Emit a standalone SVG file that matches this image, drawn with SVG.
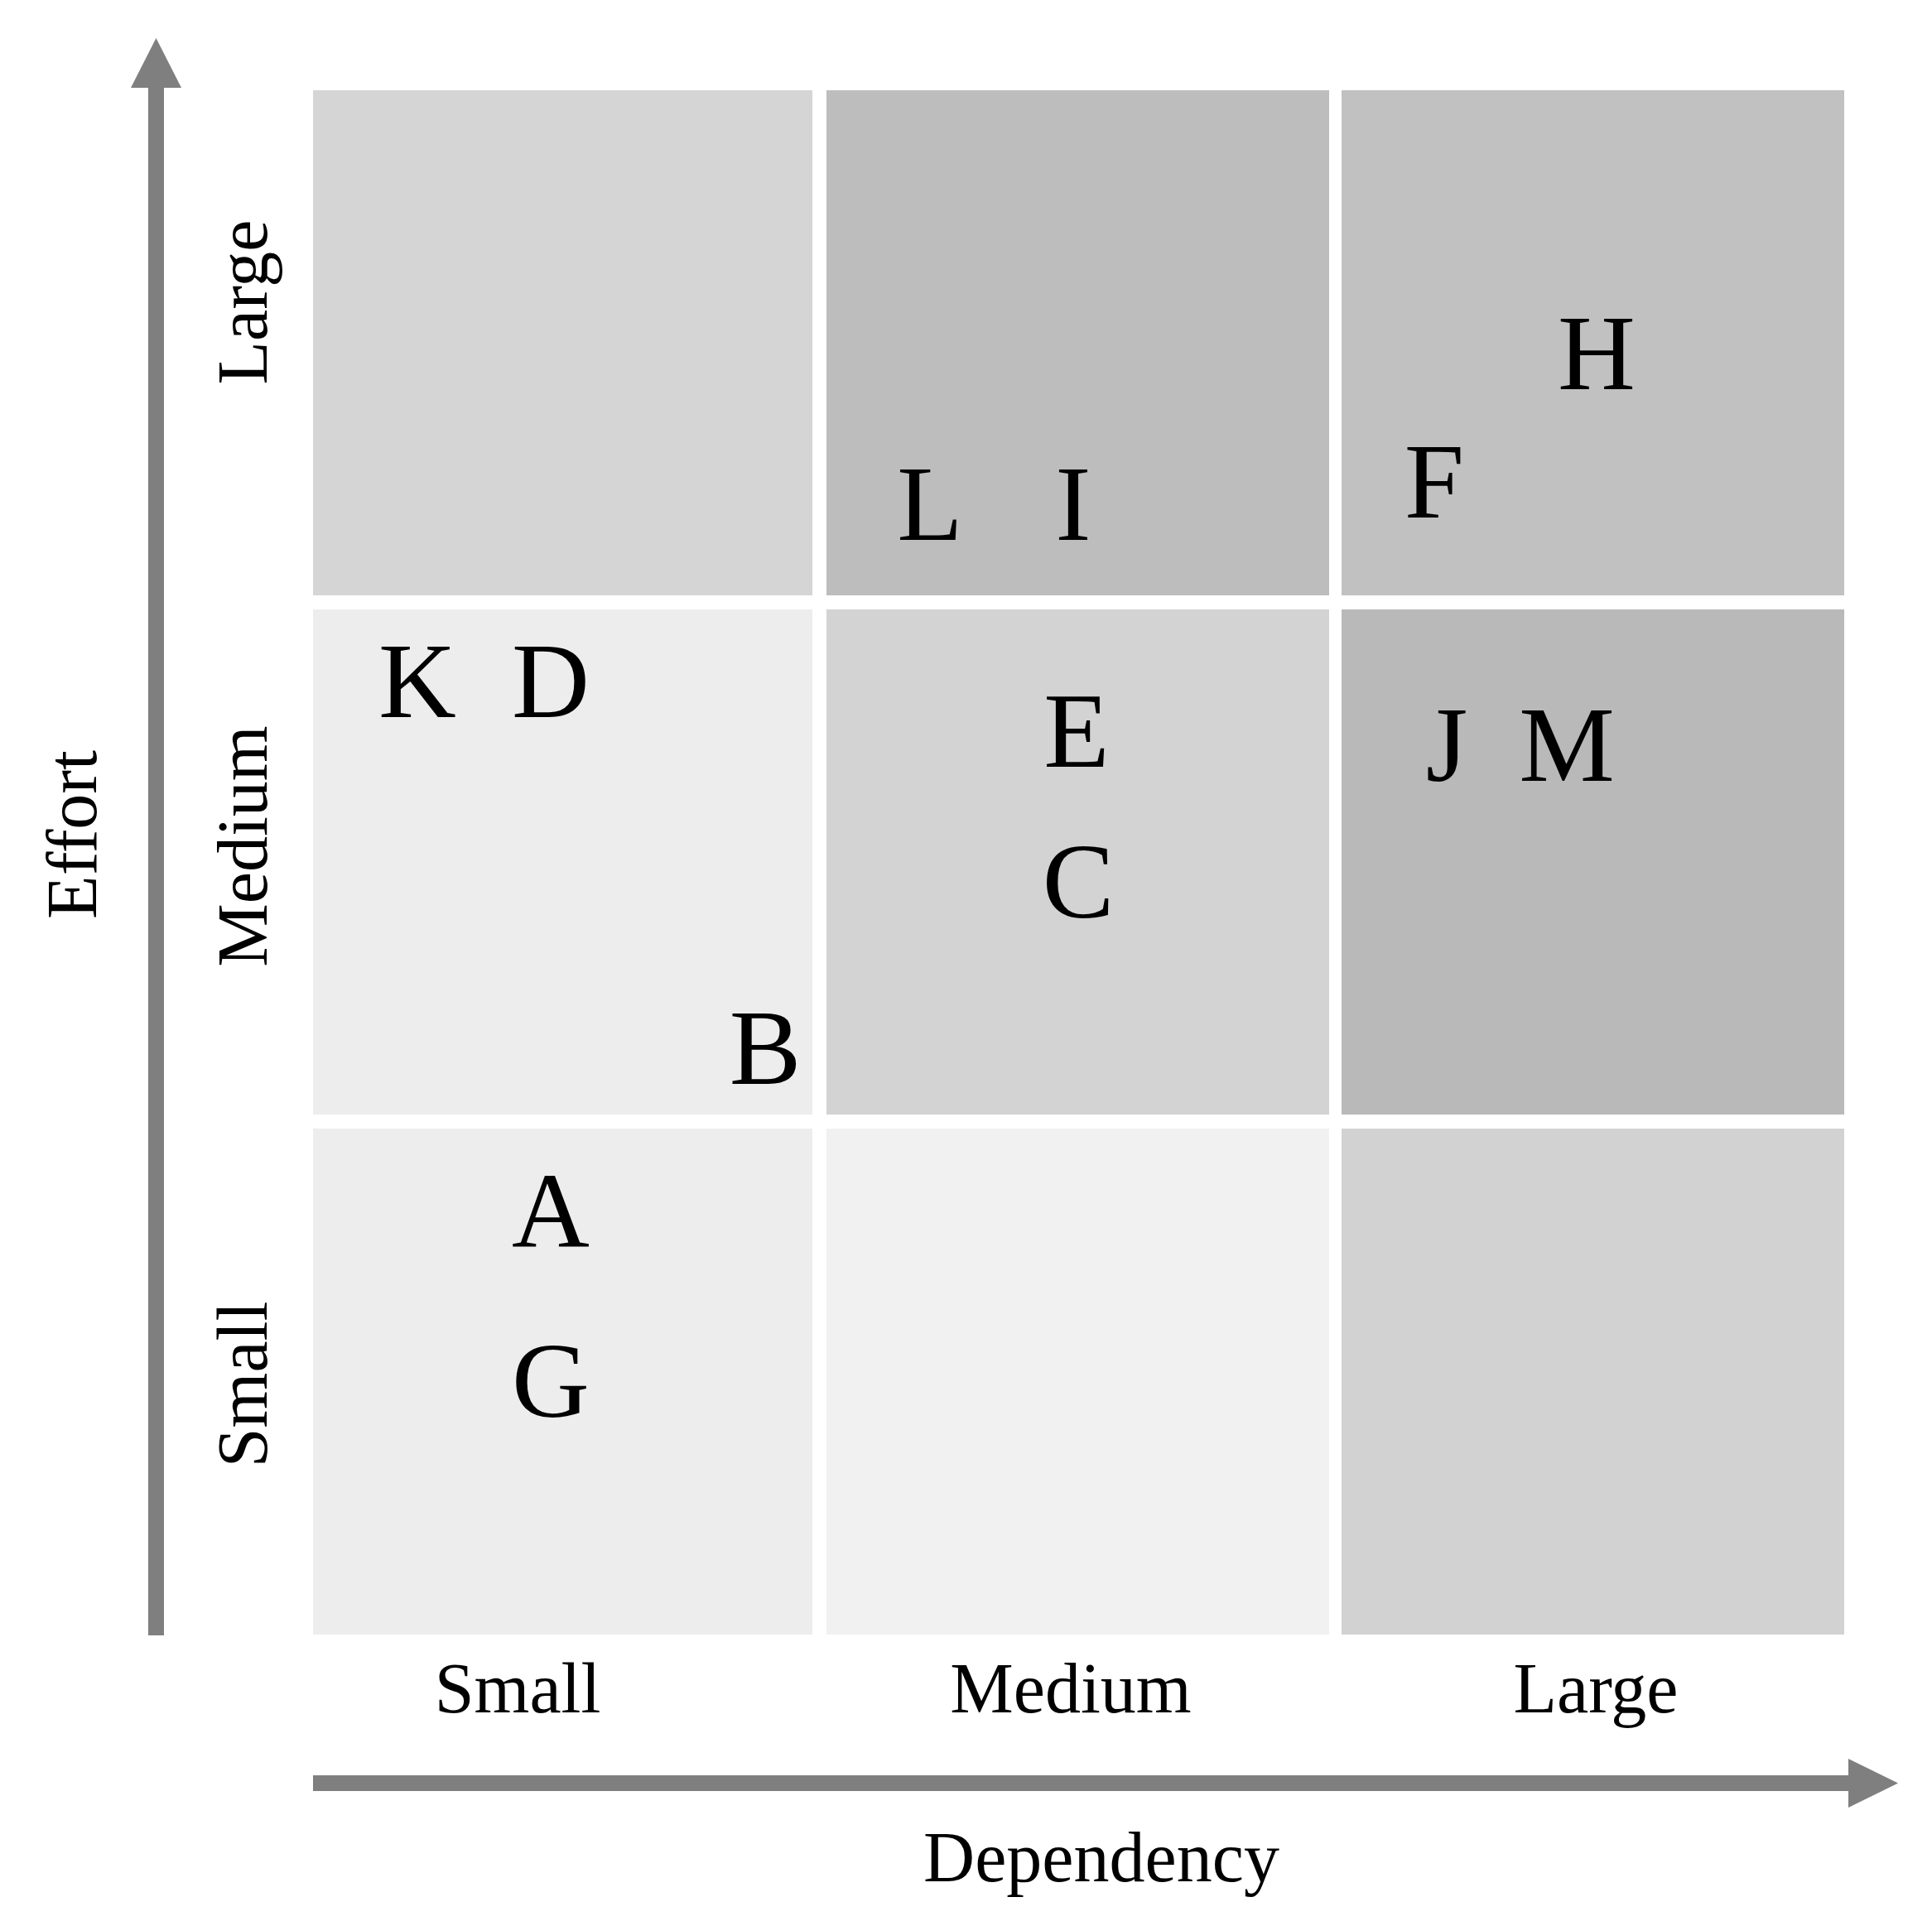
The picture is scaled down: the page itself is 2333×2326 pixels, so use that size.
<svg xmlns="http://www.w3.org/2000/svg" width="2333" height="2326" viewBox="0 0 2333 2326">
<style>
.lbl{font-family:"Liberation Serif","Times New Roman",serif;fill:#000;text-anchor:middle}
.ax{font-size:86px}
.pt{font-size:130px}
.arrow{fill:#7f7f7f}
</style>
<rect width="2333" height="2326" fill="#ffffff"/>
<g id="cells">
<rect id="cell-r1c1" x="378" y="109" width="603" height="610" fill="#d5d5d5"/>
<rect id="cell-r1c2" x="998" y="109" width="607" height="610" fill="#bdbdbd"/>
<rect id="cell-r1c3" x="1620" y="109" width="607" height="610" fill="#c1c1c1"/>
<rect id="cell-r2c1" x="378" y="736" width="603" height="610" fill="#ededed"/>
<rect id="cell-r2c2" x="998" y="736" width="607" height="610" fill="#d3d3d3"/>
<rect id="cell-r2c3" x="1620" y="736" width="607" height="610" fill="#b9b9b9"/>
<rect id="cell-r3c1" x="378" y="1363" width="603" height="611" fill="#ededed"/>
<rect id="cell-r3c2" x="998" y="1363" width="607" height="611" fill="#f1f1f1"/>
<rect id="cell-r3c3" x="1620" y="1363" width="607" height="611" fill="#d2d2d2"/>
</g>
<g id="connectors">
<g id="axis-effort">
<rect class="arrow" x="179" y="100" width="19" height="1875"/>
<polygon class="arrow" points="188.5,46 219,106 158,106"/>
</g>
<g id="axis-dependency">
<rect class="arrow" x="378" y="2144" width="1860" height="19"/>
<polygon class="arrow" points="2292,2153.5 2232,2124 2232,2183"/>
</g>
</g>
<g id="axis-labels">
<text id="lbl-effort" class="lbl ax" x="116" y="1008" transform="rotate(-90 116 1008)">Effort</text>
<text id="lbl-y-large" class="lbl ax" x="322" y="365" transform="rotate(-90 322 365)">Large</text>
<text id="lbl-y-medium" class="lbl ax" x="322" y="1022" transform="rotate(-90 322 1022)">Medium</text>
<text id="lbl-y-small" class="lbl ax" x="322" y="1672" transform="rotate(-90 322 1672)">Small</text>
<text id="lbl-x-small" class="lbl ax" x="625" y="2068">Small</text>
<text id="lbl-x-medium" class="lbl ax" x="1293" y="2068">Medium</text>
<text id="lbl-x-large" class="lbl ax" x="1927" y="2068">Large</text>
<text id="lbl-dependency" class="lbl ax" x="1330" y="2272">Dependency</text>
</g>
<g id="node-A"><text class="lbl pt" x="665" y="1506">A</text></g>
<g id="node-B"><text class="lbl pt" x="924" y="1309">B</text></g>
<g id="node-C"><text class="lbl pt" x="1302" y="1108">C</text></g>
<g id="node-D"><text class="lbl pt" x="665" y="866">D</text></g>
<g id="node-E"><text class="lbl pt" x="1300" y="926">E</text></g>
<g id="node-F"><text class="lbl pt" x="1732" y="625">F</text></g>
<g id="node-G"><text class="lbl pt" x="665" y="1711">G</text></g>
<g id="node-H"><text class="lbl pt" x="1928" y="470">H</text></g>
<g id="node-I"><text class="lbl pt" x="1296" y="652">I</text></g>
<g id="node-J"><text class="lbl pt" x="1747" y="943">J</text></g>
<g id="node-K"><text class="lbl pt" x="504" y="866">K</text></g>
<g id="node-L"><text class="lbl pt" x="1123" y="652">L</text></g>
<g id="node-M"><text class="lbl pt" x="1892" y="943">M</text></g>
</svg>
